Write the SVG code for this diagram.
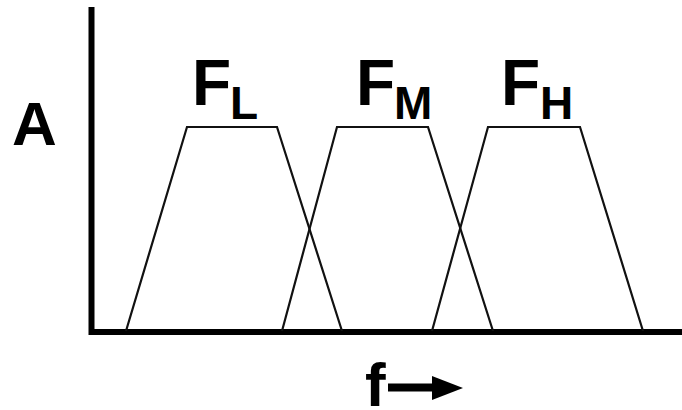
<svg xmlns="http://www.w3.org/2000/svg" width="682" height="410" viewBox="0 0 682 410">
<style>
.lbl{font-family:"Liberation Sans",Arial,sans-serif;font-weight:bold;fill:#000}
.big{font-size:64px}
.sub{font-size:46px}
.trap{fill:none;stroke:#111;stroke-width:2.2}
.axis{fill:none;stroke:#000;stroke-width:6}
</style>
<rect width="682" height="410" fill="#fff"/>
<g id="connectors">
<polyline class="axis" points="91.5,7 91.5,332 682,332" stroke-linejoin="miter"/>
<line x1="388" y1="387.5" x2="434" y2="387.5" stroke="#000" stroke-width="8"/>
<polygon points="432,376 463,388 432,400" fill="#000"/>
</g>
<g id="filter-low">
<polyline class="trap" points="126,331 187,127 277,127 342,331"/>
<text class="lbl big" x="192" y="105">F</text>
<text class="lbl sub" x="230" y="119">L</text>
</g>
<g id="filter-mid">
<polyline class="trap" points="282,331 337,127 428,127 493,331"/>
<text class="lbl big" x="356" y="105">F</text>
<text class="lbl sub" x="394" y="119">M</text>
</g>
<g id="filter-high">
<polyline class="trap" points="432,331 488,127 580,127 643,331"/>
<text class="lbl big" x="501" y="105">F</text>
<text class="lbl sub" x="540" y="119">H</text>
</g>
<g id="amp-label">
<text class="lbl" font-size="62" x="12" y="145">A</text>
</g>
<g id="freq-label">
<text class="lbl" font-size="62" x="365" y="406">f</text>
</g>
</svg>
